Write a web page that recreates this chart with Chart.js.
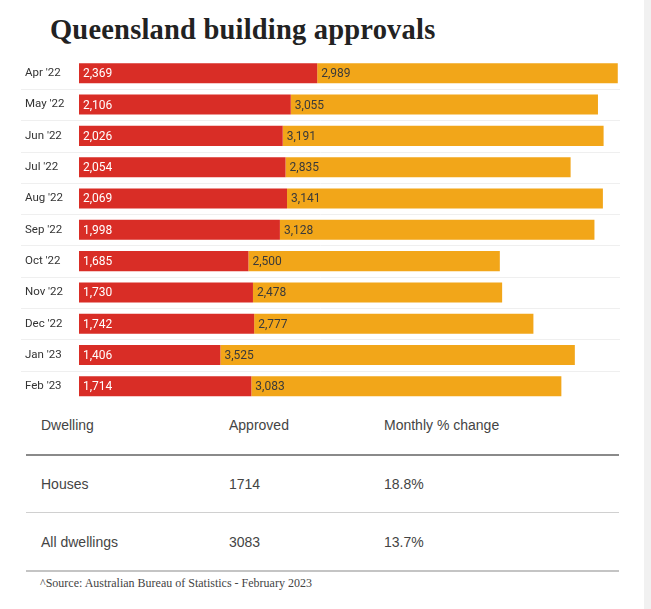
<!DOCTYPE html>
<html>
<head>
<meta charset="utf-8">
<script src="https://cdn.jsdelivr.net/npm/chart.js@4.4.1/dist/chart.umd.min.js"></script>
<style>
  html, body { margin: 0; padding: 0; background: #fff; }
  body { width: 651px; height: 609px; position: relative; overflow: hidden; }
  .strip { position: absolute; left: 644px; top: 0; width: 7px; height: 609px; background: #f1f1f1; }
  h1 {
    position: absolute; left: 50px; top: 14px; margin: 0;
    font-family: "Liberation Serif", serif; font-weight: bold; font-size: 28.5px;
    color: #222; letter-spacing: 0.2px;
  }
  .chartBox { position: absolute; left: 0; top: 50px; width: 640px; height: 360px; }
  .source { position: absolute; left: 40px; top: 576px; font-family: "Liberation Serif", serif; font-size: 12px; color: #444; }
</style>
</head>
<body>
<div class="strip"></div>
<h1>Queensland building approvals</h1>
<div class="chartBox"><canvas id="chart"></canvas></div>

<div id="table"></div>
<div class="source">^Source: Australian Bureau of Statistics - February 2023</div>

<script>
// DATA
const months = ["Apr '22", "May '22", "Jun '22", "Jul '22", "Aug '22", "Sep '22", "Oct '22", "Nov '22", "Dec '22", "Jan '23", "Feb '23"];
const houses = [2369, 2106, 2026, 2054, 2069, 1998, 1685, 1730, 1742, 1406, 1714];
const allDwellings = [2989, 3055, 3191, 2835, 3141, 3128, 2500, 2478, 2777, 3525, 3083];

const tableHead = ["Dwelling", "Approved", "Monthly % change"];
const tableRows = [
  ["Houses", "1714", "18.8%"],
  ["All dwellings", "3083", "13.7%"],
];

// TABLE
const tableEl = document.getElementById("table");
const tblStyle = "position:absolute;font-family:'Liberation Sans',Arial,sans-serif;font-size:14px;color:#444;";
const colX = [15, 203, 358];
function addRow(cells, y) {
  cells.forEach((txt, i) => {
    const s = document.createElement("div");
    s.textContent = txt;
    s.style.cssText = tblStyle + `top:${y}px;left:${26 + colX[i]}px;`;
    tableEl.appendChild(s);
  });
}
function addLine(y, color, h) {
  const l = document.createElement("div");
  l.style.cssText = `position:absolute;left:26px;top:${y}px;width:593px;height:${h}px;background:${color};`;
  tableEl.appendChild(l);
}
addRow(tableHead, 417);
addLine(454, "#8a8a8a", 2);
addRow(tableRows[0], 476);
addLine(512, "#d0d0d0", 1);
addRow(tableRows[1], 534);
addLine(570, "#c4c4c4", 1.5);

// PLUGINS
const separators = {
  id: "separators",
  beforeDatasetsDraw(chart) {
    const { ctx } = chart;
    const y = chart.scales.y;
    ctx.save();
    ctx.strokeStyle = "#efefef";
    ctx.lineWidth = 1;
    for (let i = 0; i < months.length - 1; i++) {
      const p = Math.round((y.getPixelForValue(i) + y.getPixelForValue(i + 1)) / 2) + 0.5;
      ctx.beginPath();
      ctx.moveTo(21, p);
      ctx.lineTo(chart.chartArea.right - 2, p);
      ctx.stroke();
    }
    ctx.restore();
  },
};

const barLabels = {
  id: "barLabels",
  afterDatasetsDraw(chart) {
    const { ctx } = chart;
    ctx.save();
    ctx.font = "12px Roboto";
    ctx.textBaseline = "middle";
    chart.data.datasets.forEach((ds, di) => {
      const meta = chart.getDatasetMeta(di);
      meta.data.forEach((bar, i) => {
        const left = Math.min(bar.base, bar.x);
        ctx.fillStyle = di === 0 ? "#ffffff" : "#3a3a3a";
        ctx.fillText(ds.data[i].toLocaleString("en-US"), left + 4, bar.y + 1);
      });
    });
    ctx.restore();
  },
};

// CHART
const ctx = document.getElementById("chart").getContext("2d");
new Chart(ctx, {
  type: "bar",
  data: {
    labels: months,
    datasets: [
      { label: "Houses", data: houses, backgroundColor: "#d92d26", barPercentage: 0.64, categoryPercentage: 1 },
      { label: "All dwellings", data: allDwellings, backgroundColor: "#f2a619", barPercentage: 0.64, categoryPercentage: 1 },
    ],
  },
  options: {
    indexAxis: "y",
    responsive: true,
    maintainAspectRatio: false,
    animation: false,
    layout: { padding: { left: 25, right: 18, top: 7.6, bottom: 8 } },
    plugins: { legend: { display: false }, tooltip: { enabled: false } },
    scales: {
      x: { stacked: true, display: false, min: 0, max: 5400 },
      y: {
        stacked: true,
        grid: { display: false },
        border: { display: false },
        afterFit: (scale) => { scale.width = 54; },
        ticks: {
          crossAlign: "far",
          padding: 0,
          color: "#333",
          font: { family: "Roboto", size: 11.5 },
        },
      },
    },
  },
  plugins: [separators, barLabels],
});
</script>
</body>
</html>
